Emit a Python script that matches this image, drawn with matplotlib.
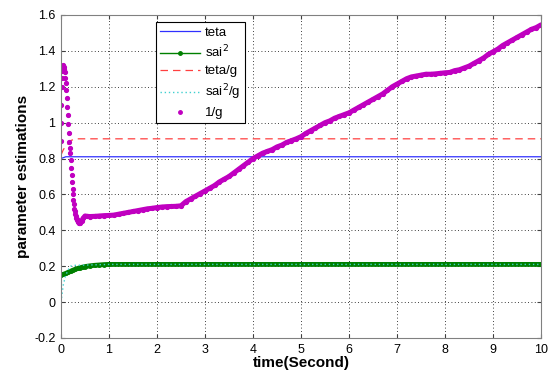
import matplotlib
matplotlib.use("Agg")
import matplotlib.pyplot as plt
from matplotlib.lines import Line2D

plt.rcParams['font.family'] = ['Liberation Sans', 'DejaVu Sans']

# ---- data ----
t_teta = [0, 0.05, 0.1, 0.2, 10]
teta = [0.80, 0.805, 0.81, 0.81, 0.81]

t_sai2 = [0, 0.05, 0.1, 0.15, 0.2, 0.25, 0.3, 0.35, 0.4, 0.45, 0.5, 0.6, 0.7, 0.8, 0.9, 1.0, 10]
sai2 = [0.15, 0.155, 0.16, 0.166, 0.172, 0.178, 0.183, 0.188, 0.192, 0.195, 0.198, 0.202, 0.205, 0.207, 0.209, 0.21, 0.21]

t_tetag = [0, 0.05, 0.1, 0.15, 0.2, 0.3, 10]
tetag = [0.82, 0.85, 0.87, 0.88, 0.90, 0.91, 0.91]

t_sai2g = [0, 0.05, 0.1, 0.15, 0.2, 0.3, 1.0, 10]
sai2g = [0.0, 0.10, 0.15, 0.18, 0.20, 0.205, 0.21, 0.21]

# early transient of 1/g (separate dots)
t_invg_early = [0, 0.005, 0.01, 0.015, 0.02, 0.03, 0.04, 0.05, 0.06, 0.07, 0.08, 0.09,
                0.10, 0.11, 0.12, 0.13, 0.14, 0.15, 0.16, 0.17, 0.18, 0.19, 0.20, 0.21,
                0.22, 0.23, 0.24, 0.25, 0.26, 0.27, 0.28, 0.29, 0.30, 0.31, 0.32, 0.33,
                0.34, 0.35, 0.36, 0.37, 0.38]
invg_early = [0.90, 1.00, 1.10, 1.20, 1.25, 1.29, 1.31, 1.32, 1.31, 1.30, 1.28, 1.25,
              1.22, 1.18, 1.14, 1.09, 1.04, 0.99, 0.94, 0.89, 0.86, 0.83, 0.79, 0.75,
              0.71, 0.67, 0.63, 0.60, 0.57, 0.545, 0.52, 0.505, 0.49, 0.48, 0.47, 0.462,
              0.455, 0.45, 0.447, 0.444, 0.442]
# slow part of 1/g (dense dots forming a band)
t_invg = [0.38, 0.40, 0.43, 0.46, 0.50, 0.55, 0.6, 0.7, 0.8,
          0.9, 1.0, 1.1, 1.2, 1.3, 1.4, 1.5, 1.6, 1.7, 1.8, 1.9, 2.0, 2.1, 2.2, 2.3, 2.4,
          2.5, 2.6, 2.7, 2.8, 2.9, 3.0, 3.1, 3.2, 3.3, 3.4, 3.5, 3.6, 3.7, 3.8, 3.9, 4.0,
          4.1, 4.2, 4.3, 4.4, 4.5, 4.6, 4.7, 4.8, 4.9, 5.0, 5.1, 5.2, 5.3, 5.4, 5.5, 5.6,
          5.7, 5.8, 5.9, 6.0, 6.1, 6.2, 6.3, 6.4, 6.5, 6.6, 6.7, 6.8, 6.9, 7.0, 7.1, 7.2,
          7.3, 7.4, 7.5, 7.6, 7.7, 7.8, 7.9, 8.0, 8.1, 8.2, 8.3, 8.4, 8.5, 8.6, 8.7, 8.8,
          8.9, 9.0, 9.1, 9.2, 9.3, 9.4, 9.5, 9.6, 9.7, 9.8, 9.9, 10.0]
invg = [0.442, 0.442, 0.452, 0.467, 0.48, 0.478, 0.477, 0.478, 0.48,
        0.482, 0.483, 0.485, 0.49, 0.495, 0.50, 0.505, 0.51, 0.515, 0.52, 0.523, 0.527, 0.53, 0.532, 0.533, 0.534,
        0.537, 0.56, 0.575, 0.59, 0.605, 0.62, 0.635, 0.65, 0.67, 0.685, 0.70, 0.72, 0.74, 0.76, 0.78, 0.80,
        0.815, 0.83, 0.84, 0.85, 0.865, 0.875, 0.89, 0.90, 0.91, 0.922, 0.94, 0.955, 0.97, 0.985, 1.0, 1.01,
        1.025, 1.035, 1.045, 1.055, 1.07, 1.085, 1.10, 1.115, 1.13, 1.145, 1.16, 1.18, 1.20, 1.215, 1.23, 1.245,
        1.255, 1.26, 1.265, 1.27, 1.27, 1.272, 1.275, 1.278, 1.28, 1.29, 1.295, 1.305, 1.315, 1.33, 1.345, 1.36,
        1.38, 1.395, 1.41, 1.43, 1.445, 1.46, 1.475, 1.49, 1.505, 1.52, 1.53, 1.545]

xticks = [0, 1, 2, 3, 4, 5, 6, 7, 8, 9, 10]
yticks = [-0.2, 0, 0.2, 0.4, 0.6, 0.8, 1.0, 1.2, 1.4, 1.6]
ytick_labels = ['-0.2', '0', '0.2', '0.4', '0.6', '0.8', '1', '1.2', '1.4', '1.6']

C_TETA, C_SAI, C_TG, C_SG, C_IG = '#3030ff', '#008000', '#ff4040', '#40d0d0', '#c000c0'

fig = plt.figure(figsize=(5.48, 3.74), dpi=100)
ax = fig.add_axes([61/548, 1-338/374, 480/548, 323/374])

ax.plot(t_teta, teta, color=C_TETA, lw=0.9)
ax.plot(t_sai2, sai2, color=C_SAI, lw=3.5, marker='.', ms=5)
ax.plot(t_tetag, tetag, color=C_TG, lw=0.9, ls=(0, (6, 4)))
ax.plot(t_sai2g, sai2g, color=C_SG, lw=1.0, ls=(0, (1, 2)))
ax.plot(t_invg_early, invg_early, color=C_IG, lw=0, marker='.', ms=5.5)
ax.plot(t_invg, invg, color=C_IG, lw=3.6, solid_capstyle='round', marker='.', ms=5.5)

ax.set_xlim(0, 10)
ax.set_ylim(-0.2, 1.6)
ax.set_xticks(xticks)
ax.set_xticklabels([str(v) for v in xticks])
ax.set_yticks(yticks)
ax.set_yticklabels(ytick_labels)
ax.tick_params(direction='in', top=True, right=True, labelsize=9, length=3,
               colors='#404040', labelcolor='black', pad=4)
ax.grid(True, color='black', ls=(0, (1, 3)), lw=0.6)
for s in ax.spines.values():
    s.set_color('#808080')

ax.set_xlabel('time(Second)', fontsize=11, fontweight='bold', labelpad=0)
ax.set_ylabel('parameter estimations', fontsize=11, fontweight='bold', labelpad=3)

handles = [
    Line2D([], [], color=C_TETA, lw=0.9),
    Line2D([], [], color=C_SAI, lw=1.0, marker='.', ms=5),
    Line2D([], [], color=C_TG, lw=0.9, ls=(0, (6, 4))),
    Line2D([], [], color=C_SG, lw=1.0, ls=(0, (1, 2))),
    Line2D([], [], color=C_IG, lw=0, marker='.', ms=5),
]
labels = ['teta', 'sai$^2$', 'teta/g', 'sai$^2$/g', '1/g']
leg = ax.legend(handles, labels, loc='upper left', bbox_to_anchor=(0.197, 0.977),
                fontsize=9.5, frameon=True, fancybox=False, framealpha=1,
                edgecolor='black', borderpad=0.3, labelspacing=0.38,
                handlelength=3.1, handletextpad=0.35, borderaxespad=0)
leg.get_frame().set_linewidth(0.8)

fig.savefig('out.png', dpi=100)
